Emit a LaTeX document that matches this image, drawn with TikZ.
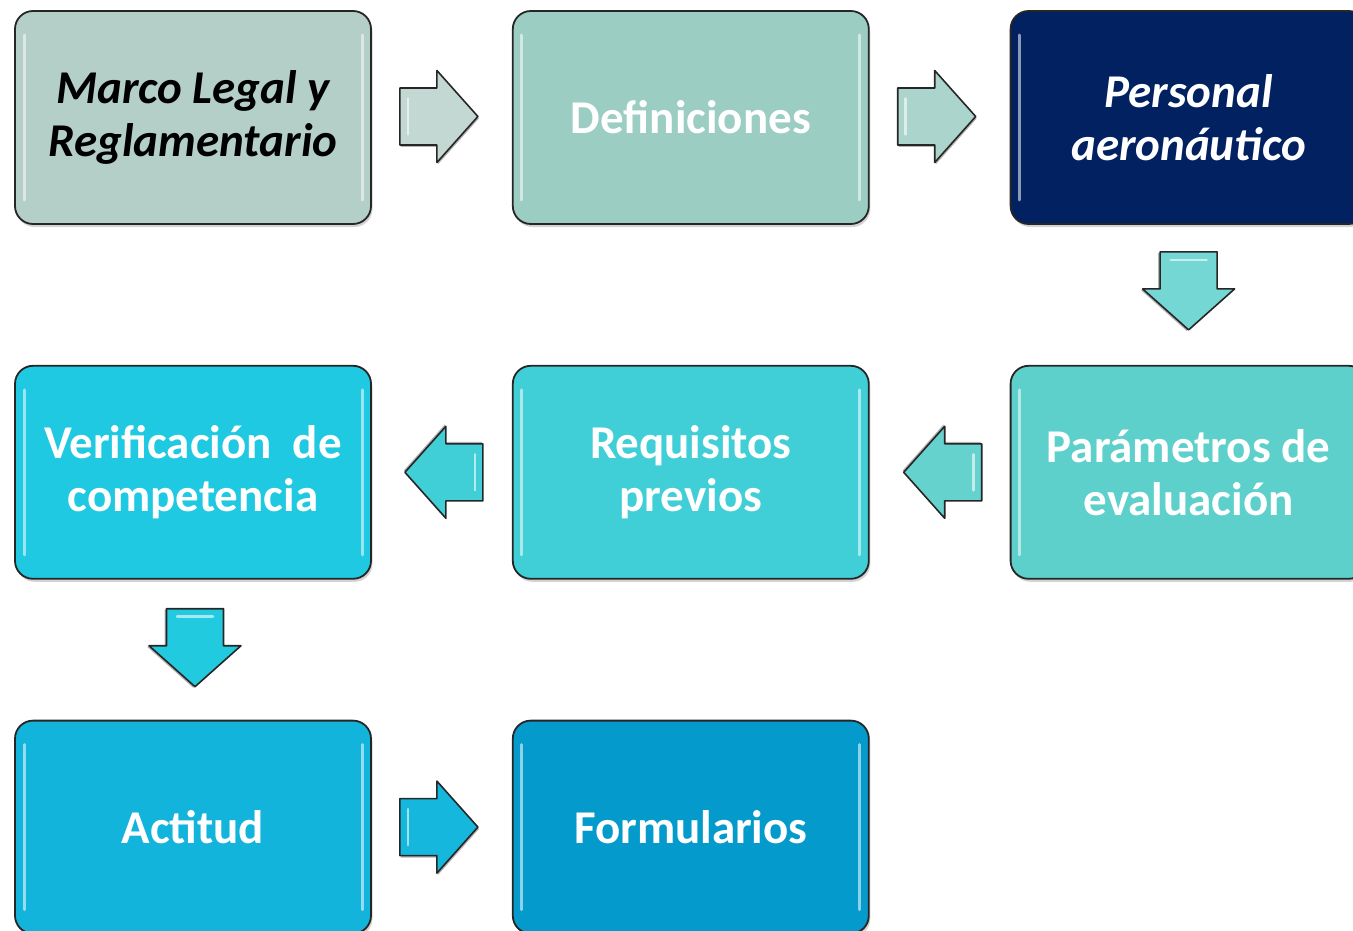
\documentclass[tikz,border=0pt]{standalone}
\usepackage{fontspec}
\setmainfont{Carlito}
\usetikzlibrary{positioning, shadows, calc}

\definecolor{legalgray}{HTML}{B4CEC8}
\definecolor{defteal}{HTML}{9BCDC3}
\definecolor{staffnavy}{HTML}{022160}
\definecolor{paramcyan}{HTML}{5DD0CB}
\definecolor{reqcyan}{HTML}{41CFD7}
\definecolor{verifcyan}{HTML}{1FC9E1}
\definecolor{attblue}{HTML}{13B4DB}
\definecolor{formblue}{HTML}{049BCC}

\begin{document}
\begin{tikzpicture}[
            x=1pt, y=1pt,
            node distance=140pt and 140pt,
            box/.style={rectangle, draw=black!85, line width=1.8pt, rounded corners=18pt,
                    minimum width=356pt, minimum height=213pt, align=center, text=white,
                    font=\fontsize{47}{53}\selectfont\bfseries,
                    drop shadow={shadow xshift=1.5pt, shadow yshift=-3pt, opacity=0.35},
                    path picture={
                        \draw[white, opacity=0.55, line width=3pt, line cap=round]
                        ($(path picture bounding box.north west)+(9pt,-24pt)$) -- ($(path picture bounding box.south west)+(9pt,24pt)$)
                        ($(path picture bounding box.north east)+(-9pt,-24pt)$) -- ($(path picture bounding box.south east)+(-9pt,24pt)$);}},
            slanted/.style={font=\fontsize{47}{53}\selectfont\bfseries\itshape},
            blockarrow/.pic={
                \fill[black, opacity=0.3, shift={(1,-2)}] (-39,-28.5) -- (-2,-28.5) -- (-2,-46) -- (39,0)
                    -- (-2,46) -- (-2,28.5) -- (-39,28.5) -- cycle;
                \path[pic actions, draw=black!85, line width=1.6pt, line join=round]
                    (-39,-28.5) -- (-2,-28.5) -- (-2,-46) -- (39,0)
                    -- (-2,46) -- (-2,28.5) -- (-39,28.5) -- cycle;
                \draw[white, opacity=0.6, line width=2.5pt, line cap=round] (-31,-18) -- (-31,18);},
            ]

            \useasboundingbox (0,0) rectangle (1353,-931);

            % boxes
            \node[box, slanted, fill=legalgray, text=black] (legal) at (193,-117.5) {Marco Legal y\\Reglamentario};
            \node[box, fill=defteal, right=of legal] (defs) {Definiciones};
            \node[box, slanted, fill=staffnavy, right=of defs] (staff) {Personal\\aeronáutico};
            \node[box, fill=paramcyan, below=of staff] (params) {Parámetros de\\evaluación};
            \node[box, fill=reqcyan, left=of params] (reqs) {Requisitos\\previos};
            \node[box, fill=verifcyan, left=of reqs] (verif) {Verificación~~de\\competencia};
            \node[box, fill=attblue, below=of verif] (attitude) {Actitud};
            \node[box, fill=formblue, right=of attitude] (forms) {Formularios};

            % block arrows
            \pic[fill=legalgray!80!white] at ($(legal.east)!0.5!(defs.west)+(-3,1)$) {blockarrow};
            \pic[fill=defteal!85!white] at ($(defs.east)!0.5!(staff.west)+(-3,1)$) {blockarrow};
            \pic[fill=paramcyan!85!white, rotate=-90] at ($(staff.south)!0.5!(params.north)+(0,4)$) {blockarrow};
            \pic[fill=paramcyan!95!white, rotate=180] at ($(params.west)!0.5!(reqs.east)+(3,0)$) {blockarrow};
            \pic[fill=reqcyan, rotate=180] at ($(reqs.west)!0.5!(verif.east)+(2,0)$) {blockarrow};
            \pic[fill=verifcyan!90!reqcyan, rotate=-90] at ($(verif.south)!0.5!(attitude.north)+(2,2)$) {blockarrow};
            \pic[fill=attblue!85!verifcyan] at ($(attitude.east)!0.5!(forms.west)+(-3,0)$) {blockarrow};

        \end{tikzpicture}
\end{document}
